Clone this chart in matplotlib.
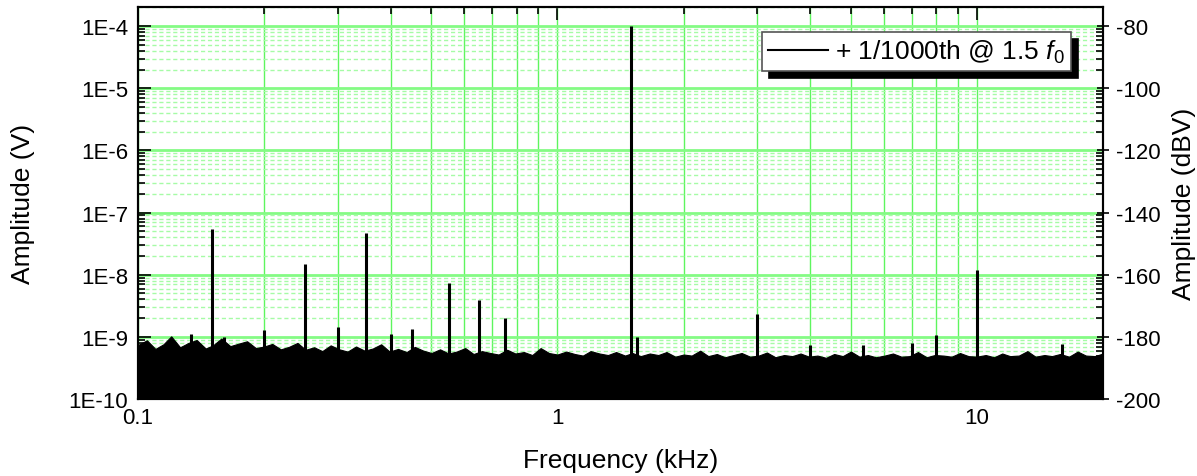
import numpy as np
import matplotlib

matplotlib.use("Agg")
import matplotlib.pyplot as plt
from matplotlib.lines import Line2D
from matplotlib.ticker import FuncFormatter, LogLocator, NullFormatter

plt.rcParams["font.family"] = ["Liberation Sans", "DejaVu Sans"]
plt.rcParams["mathtext.fontset"] = "custom"
plt.rcParams["mathtext.rm"] = "Liberation Sans"
plt.rcParams["mathtext.it"] = "Liberation Sans:italic"

# noise floor (kHz, V)
noise_freq = [
    0.100, 0.105, 0.110, 0.115, 0.120, 0.126, 0.132, 0.138, 0.145, 0.151,
    0.158, 0.166, 0.174, 0.182, 0.191, 0.200, 0.209, 0.219, 0.229, 0.240,
    0.251, 0.263, 0.275, 0.288, 0.302, 0.316, 0.331, 0.347, 0.363, 0.380,
    0.398, 0.417, 0.437, 0.457, 0.479, 0.501, 0.525, 0.550, 0.575, 0.603,
    0.631, 0.661, 0.692, 0.724, 0.759, 0.794, 0.832, 0.871, 0.912, 0.955,
    1.00, 1.05, 1.10, 1.15, 1.20, 1.26, 1.32, 1.38, 1.45, 1.51,
    1.58, 1.66, 1.74, 1.82, 1.91, 2.00, 2.09, 2.19, 2.29, 2.40,
    2.51, 2.63, 2.75, 2.88, 3.02, 3.16, 3.31, 3.47, 3.63, 3.80,
    3.98, 4.17, 4.37, 4.57, 4.79, 5.01, 5.25, 5.50, 5.75, 6.03,
    6.31, 6.61, 6.92, 7.24, 7.59, 7.94, 8.32, 8.71, 9.12, 9.55,
    10.0, 10.5, 11.0, 11.5, 12.0, 12.6, 13.2, 13.8, 14.5, 15.1,
    15.8, 16.6, 17.4, 18.2, 19.1, 20.0,
]
noise_top_e10 = [
    7.4, 8.8, 6.4, 7.6, 10.2, 6.8, 8.0, 8.9, 6.5, 7.3,
    9.4, 7.1, 7.8, 8.5, 6.6, 7.0, 7.7, 6.3, 6.9, 8.0,
    6.2, 6.8, 5.9, 7.3, 6.3, 5.8, 7.0, 6.0, 6.5, 7.6,
    5.8, 6.4, 5.7, 6.9, 6.0, 5.5, 6.3, 5.4, 5.8, 6.6,
    5.3, 5.9, 5.5, 5.2, 6.2, 5.4, 5.7, 5.1, 6.6, 5.5,
    5.2, 5.8, 5.3, 5.0, 5.9, 5.4, 5.1, 5.7, 5.0, 5.5,
    4.9, 5.4, 5.1, 5.7, 4.8, 5.2, 5.0, 6.0, 4.9, 5.3,
    4.7, 5.1, 5.5, 4.8, 5.0, 5.6, 4.7, 5.1, 4.9, 5.4,
    4.8, 5.0, 4.6, 5.3, 4.9, 5.8, 4.8, 5.1, 4.7, 5.0,
    5.4, 4.8, 4.9, 5.7, 4.7, 5.1, 5.0, 4.8, 5.5, 4.9,
    4.8, 5.1, 4.7, 5.4, 4.9, 5.0, 5.9, 4.8, 5.1, 4.9,
    5.3, 4.8, 5.8, 5.0, 4.9, 5.4,
]

# discrete spectral lines
peak_freq = [0.134, 0.15, 0.16, 0.2, 0.25, 0.3, 0.35, 0.4, 0.45, 0.55,
             0.65, 0.75, 1.5, 1.55, 3.0, 4.0, 5.35, 7.0, 8.0, 10.0, 16.0]
peak_amp = [1.1e-9, 5.5e-8, 1.0e-9, 1.28e-9, 1.5e-8, 1.45e-9, 4.7e-8, 1.13e-9,
            1.36e-9, 7.4e-9, 3.9e-9, 2.0e-9, 1e-4, 1.0e-9, 2.3e-9, 7.4e-10,
            7.4e-10, 8.1e-10, 1.09e-9, 1.2e-8, 7.8e-10]

legend_label = "+ 1/1000th @ 1.5 $f_0$"

fig = plt.figure(figsize=(11.97, 4.77), dpi=100)
ax = fig.add_axes([0.1153, 0.1614, 0.8062, 0.8208])

ymin, ymax = 1e-10, 2e-4
noise_top = np.array(noise_top_e10) * 1e-10
ax.fill_between(noise_freq, ymin, noise_top, color="black", lw=0.8,
                edgecolor="black", zorder=3)
ax.vlines(peak_freq, ymin, peak_amp, color="black", lw=2.2, zorder=4)

ax.set_xscale("log")
ax.set_yscale("log")
ax.set_xlim(0.1, 20)
ax.set_ylim(ymin, ymax)

ax.xaxis.set_major_locator(LogLocator(base=10))
ax.xaxis.set_minor_locator(LogLocator(base=10, subs=np.arange(2, 10)))
ax.xaxis.set_major_formatter(FuncFormatter(lambda v, _: f"{v:g}"))
ax.xaxis.set_minor_formatter(NullFormatter())
ax.yaxis.set_major_locator(LogLocator(base=10, numticks=20))
ax.yaxis.set_minor_locator(LogLocator(base=10, subs=np.arange(2, 10), numticks=20))
ax.yaxis.set_major_formatter(FuncFormatter(lambda v, _: f"1E{int(round(np.log10(v)))}"))
ax.yaxis.set_minor_formatter(NullFormatter())

ax.set_axisbelow(True)
ax.grid(which="major", axis="y", color="#84fb84", lw=2)
ax.grid(which="minor", axis="y", color="#a6fba6", lw=1, ls=(0, (3, 2)))
ax.grid(which="both", axis="x", color="#5ef55e", lw=1)

ax.tick_params(which="both", direction="in", top=True, right=False, width=1.2)
ax.tick_params(which="major", length=9)
ax.tick_params(which="minor", length=5)
ax.tick_params(axis="y", labelsize=16, pad=7)
ax.tick_params(axis="x", labelsize=16, pad=6)

ax2 = ax.twinx()
ax2.set_yscale("log")
ax2.set_ylim(ymin, ymax)
ax2.yaxis.set_major_locator(LogLocator(base=10, numticks=20))
ax2.yaxis.set_minor_locator(LogLocator(base=10, subs=np.arange(2, 10), numticks=20))
ax2.yaxis.set_major_formatter(FuncFormatter(lambda v, _: f"{20 * np.log10(v):.0f}"))
ax2.yaxis.set_minor_formatter(NullFormatter())
ax2.tick_params(which="major", direction="inout", length=9, width=1.2, labelsize=16, pad=5)
ax2.tick_params(which="minor", direction="in", length=5, width=1.2)

for a in (ax, ax2):
    for s in a.spines.values():
        s.set_linewidth(1.5)

ax.set_xlabel("Frequency (kHz)", fontsize=19, labelpad=14)
ax.set_ylabel("Amplitude (V)", fontsize=19, labelpad=24)
ax2.set_ylabel("Amplitude (dBV)", fontsize=19, labelpad=8)

handle = Line2D([], [], color="black", lw=1.5)
leg = ax.legend([handle], [legend_label], loc="upper right",
                bbox_to_anchor=(0.9668, 0.9374), borderaxespad=0,
                fontsize=19, frameon=True, fancybox=False, borderpad=0.22,
                handlelength=2.25, handletextpad=0.3,
                shadow={"ox": 5, "oy": -5, "facecolor": "black",
                        "edgecolor": "black", "alpha": 1})
leg.get_frame().set_edgecolor("#555555")
leg.get_frame().set_linewidth(1.2)
leg.get_frame().set_alpha(1)
leg.set_zorder(10)

fig.savefig("out.png")
